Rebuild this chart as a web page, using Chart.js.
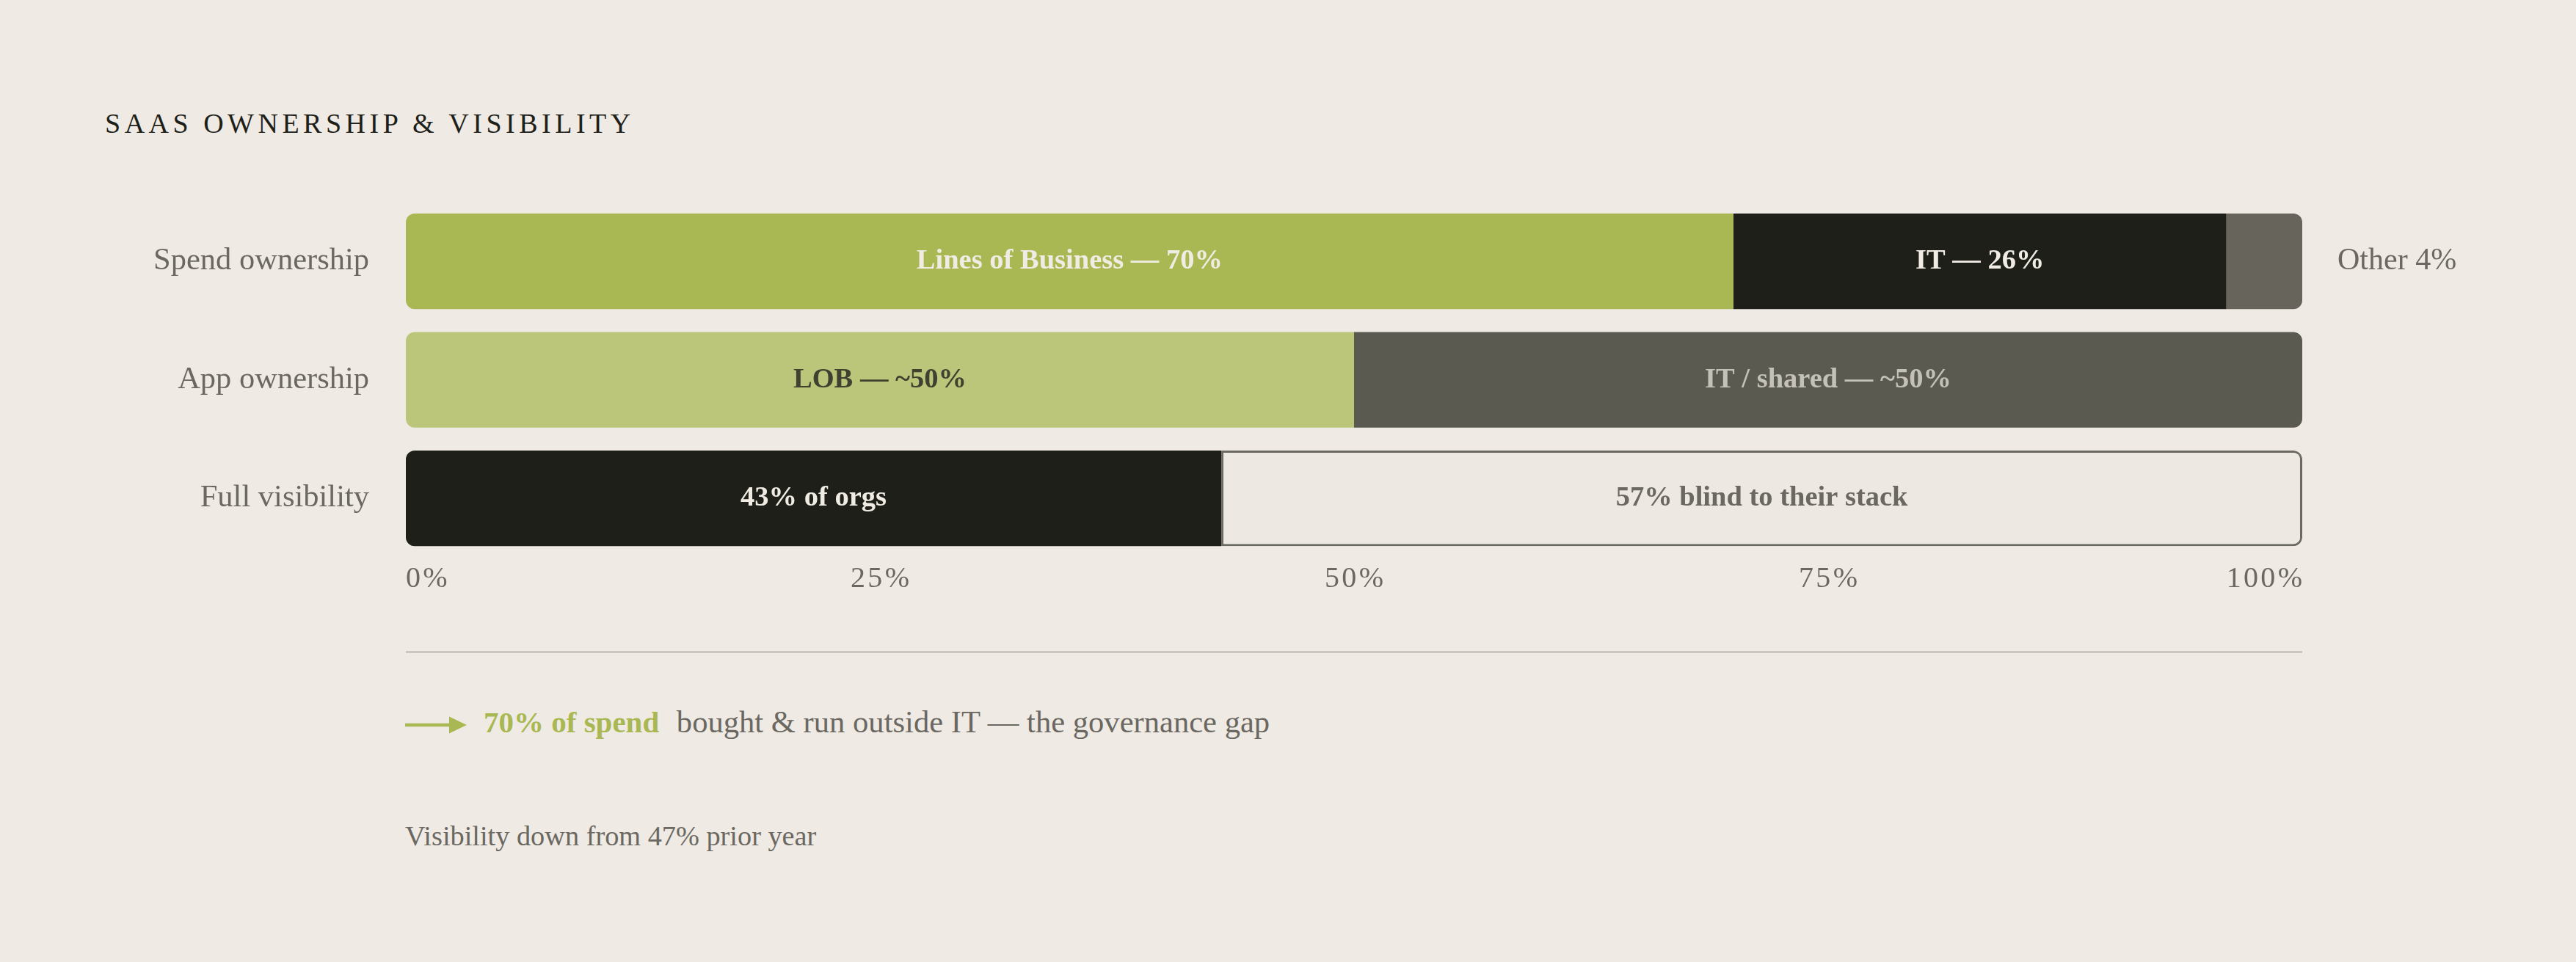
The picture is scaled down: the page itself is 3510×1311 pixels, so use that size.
<!DOCTYPE html>
<html>
<head>
<meta charset="utf-8">
<title>SaaS ownership &amp; visibility</title>
<script src="https://cdn.jsdelivr.net/npm/chart.js@4.4.1/dist/chart.umd.min.js"></script>
<style>
  html, body { margin: 0; padding: 0; background: #efebe4; }
  body { width: 3510px; height: 1311px; position: relative; overflow: hidden; font-family: 'Liberation Serif', serif; }
  .title { position: absolute; left: 143px; top: 149px; font-size: 38px; line-height: 38px; letter-spacing: 5.5px; color: #1e1f19; white-space: nowrap; }
  #chart { position: absolute; left: 0; top: 200px; }
  .divider { position: absolute; left: 553px; top: 887px; width: 2584px; height: 2.5px; background: #cbc7bf; }
  .arrow { position: absolute; left: 552px; top: 975px; }
  .callout { position: absolute; left: 659px; top: 963px; font-size: 42.6px; line-height: 42px; color: #6b6862; white-space: nowrap; }
  .callout b { color: #a9b853; font-size: 41px; margin-right: 13px; }
  .note { position: absolute; left: 552px; top: 1120px; font-size: 38.3px; line-height: 38px; color: #6b6862; white-space: nowrap; }
</style>
</head>
<body>
<div class="title">SAAS OWNERSHIP &amp; VISIBILITY</div>
<canvas id="chart" width="3510" height="700"></canvas>
<div class="divider"></div>
<svg class="arrow" width="86" height="26" viewBox="0 0 86 26">
  <line x1="0" y1="13" x2="64" y2="13" stroke="#a9b853" stroke-width="4.5"/>
  <polygon points="60,1.5 84,13 60,24.5" fill="#a9b853"/>
</svg>
<div class="callout"><b>70% of spend</b> bought &amp; run outside IT — the governance gap</div>
<div class="note">Visibility down from 47% prior year</div>

<script>
// SaaS ownership & visibility — stacked 100% bars

const rowLabels = ['Spend ownership', 'App ownership', 'Full visibility'];
const leadShare = [70, 50, 43];
const secondShare = [26, 50, 57];
const otherShare = [4, 0, 0];
const leadText = ['Lines of Business — 70%', 'LOB — ~50%', '43% of orgs'];
const secondText = ['IT — 26%', 'IT / shared — ~50%', '57% blind to their stack'];
const otherText = ['Other 4%', '', ''];
const xTickValues = [0, 25, 50, 75, 100];

const COLORS = {
    green: '#a9b853',
    greenLight: '#bcc67b',
    ink: '#1e1f19',
    slate: '#5a5a51',
    stone: '#67645c',
    outline: '#6b6a62',
    paper: '#ede9e2',
    muted: '#6b6862',
    cream: '#f0ece4',
    olive: '#3f4230',
    fog: '#c4c2b8',
};

const leadFill = [COLORS.green, COLORS.greenLight, COLORS.ink];
const secondFill = [COLORS.ink, COLORS.slate, COLORS.paper];
const leadInk = [COLORS.cream, COLORS.olive, COLORS.cream];
const secondInk = [COLORS.cream, COLORS.fog, COLORS.muted];

const FONT = "'Liberation Serif', serif";
const R = 12;

Chart.defaults.font.family = FONT;
Chart.defaults.color = COLORS.muted;

// round the outer ends of each row only
function cornerRadius(ctx) {
    const ds = ctx.datasetIndex, i = ctx.dataIndex;
    if (i === undefined) return 0;
    const series = [leadShare, secondShare, otherShare];
    let last = 0;
    series.forEach((s, k) => { if (s[i] > 0) last = k; });
    const left = ds === 0 ? R : 0;
    const right = ds === last ? R : 0;
    return { topLeft: left, bottomLeft: left, topRight: right, bottomRight: right };
}

const barLabels = {
    id: 'barLabels',
    afterDatasetsDraw(chart) {
        const { ctx } = chart;
        const texts = [leadText, secondText];
        const inks = [leadInk, secondInk];
        ctx.save();
        ctx.textBaseline = 'middle';
        texts.forEach((list, d) => {
            chart.getDatasetMeta(d).data.forEach((bar, i) => {
                const { x, base, y } = bar.getProps(['x', 'base', 'y'], true);
                ctx.font = 'bold 38.5px ' + FONT;
                ctx.fillStyle = inks[d][i];
                ctx.textAlign = 'center';
                ctx.fillText(list[i], (x + base) / 2, y);
            });
        });
        chart.getDatasetMeta(2).data.forEach((bar, i) => {
            if (!otherText[i]) return;
            const { x, y } = bar.getProps(['x', 'y'], true);
            ctx.font = '42px ' + FONT;
            ctx.fillStyle = COLORS.muted;
            ctx.textAlign = 'left';
            ctx.fillText(otherText[i], x + 48, y);
        });
        ctx.restore();
    }
};

const common = {
    barPercentage: 0.807,
    categoryPercentage: 1,
    borderSkipped: false,
    borderRadius: cornerRadius,
};

new Chart(document.getElementById('chart'), {
    type: 'bar',
    data: {
        labels: rowLabels,
        datasets: [
            { ...common, label: 'Lead', data: leadShare, backgroundColor: leadFill, borderWidth: 0 },
            {
                ...common, label: 'Second', data: secondShare, backgroundColor: secondFill,
                borderColor: COLORS.outline, borderWidth: [0, 0, 3]
            },
            {
                ...common, label: 'Other', data: otherShare, borderWidth: 0,
                backgroundColor: c => (c.raw ? COLORS.stone : 'rgba(0,0,0,0)')
            }
        ]
    },
    options: {
        responsive: false,
        devicePixelRatio: 1,
        animation: false,
        indexAxis: 'y',
        layout: { padding: { top: 72.8, left: 0, right: 373, bottom: 60.2 } },
        plugins: {
            legend: { display: false },
            tooltip: { enabled: false }
        },
        scales: {
            x: {
                stacked: true,
                min: 0,
                max: 100,
                afterBuildTicks: s => { s.ticks = xTickValues.map(v => ({ value: v })); },
                grid: { display: false, drawTicks: false },
                border: { display: false },
                ticks: {
                    align: 'inner',
                    padding: 6,
                    color: COLORS.muted,
                    font: { size: 40 },
                    callback: v => (v + '%').split('').join('\u200A')
                },
                afterFit: s => { s.height = 80; }
            },
            y: {
                stacked: true,
                grid: { display: false, drawTicks: false },
                border: { display: false },
                ticks: { padding: 50, color: COLORS.muted, font: { size: 42.5 } },
                afterFit: s => { s.width = 553; }
            }
        }
    },
    plugins: [barLabels]
});
</script>
</body>
</html>
